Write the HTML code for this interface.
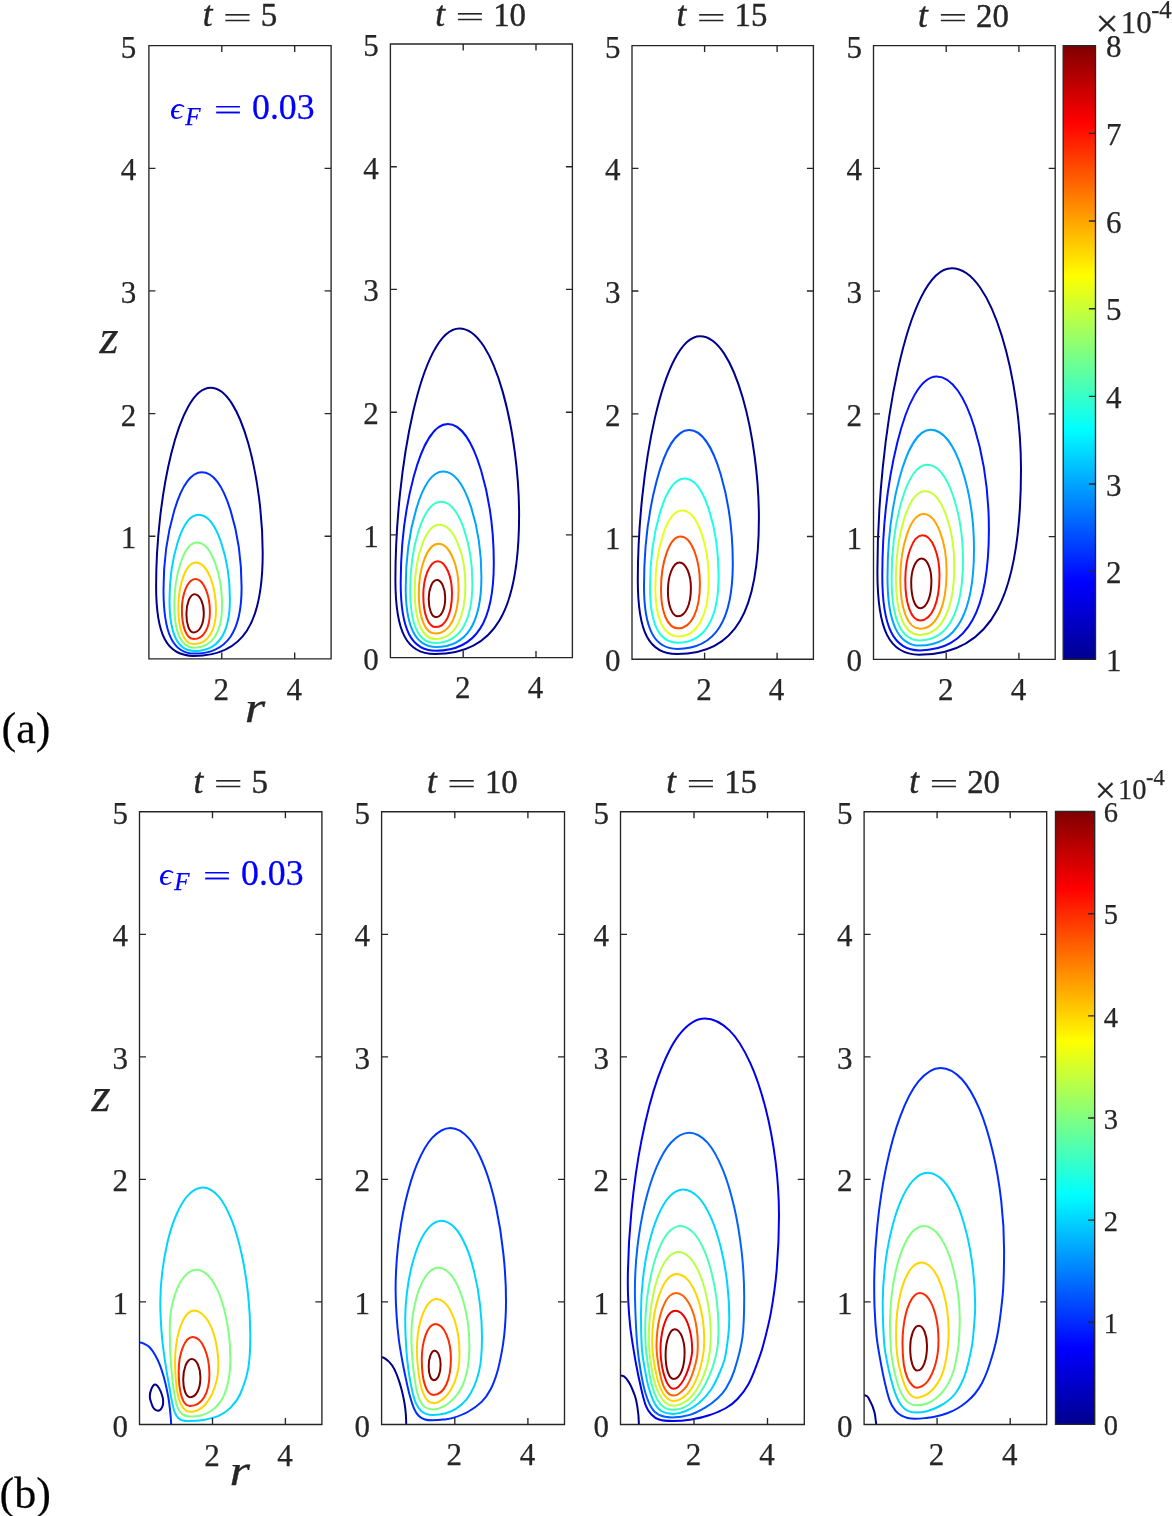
<!DOCTYPE html>
<html lang="en"><head><meta charset="utf-8"><title>Contour plots</title>
<style>html,body{margin:0;padding:0;background:#fff}svg{display:block}text{font-family:"Liberation Serif","DejaVu Serif",serif;fill:#262626;stroke:#262626;stroke-width:0.25px}.i{font-style:italic}.tk{font-size:31px}.c{fill:none;stroke-width:2.0;stroke-linejoin:round}.ax{fill:none;stroke:#262626;stroke-width:1.35}</style></head><body>
<svg width="1172" height="1516" viewBox="0 0 1172 1516">
<rect width="1172" height="1516" fill="#fff"/>
<defs><linearGradient id="jet" x1="0" y1="1" x2="0" y2="0">
<stop offset="0" stop-color="#00008F"/>
<stop offset="0.125" stop-color="#0000FF"/>
<stop offset="0.25" stop-color="#0080FF"/>
<stop offset="0.375" stop-color="#00FFFF"/>
<stop offset="0.5" stop-color="#80FF80"/>
<stop offset="0.625" stop-color="#FFFF00"/>
<stop offset="0.75" stop-color="#FF8000"/>
<stop offset="0.875" stop-color="#FF0000"/>
<stop offset="1" stop-color="#800000"/>
</linearGradient>
<clipPath id="cp0"><rect x="148.9" y="45.6" width="182.2" height="613.3"/></clipPath>
<clipPath id="cp1"><rect x="390.4" y="44" width="182" height="613.6"/></clipPath>
<clipPath id="cp2"><rect x="632" y="45.6" width="181.4" height="613.6"/></clipPath>
<clipPath id="cp3"><rect x="873.5" y="45.6" width="181.7" height="613.7"/></clipPath>
<clipPath id="cp4"><rect x="139.5" y="811.7" width="182.4" height="612.8"/></clipPath>
<clipPath id="cp5"><rect x="381.6" y="811.7" width="182.9" height="612.8"/></clipPath>
<clipPath id="cp6"><rect x="620.5" y="811.7" width="183.8" height="612.8"/></clipPath>
<clipPath id="cp7"><rect x="864.1" y="811.7" width="182.6" height="612.8"/></clipPath>
</defs>
<g clip-path="url(#cp0)">
<path class="c" stroke="#00008F" d="M210.6 387.8C241.9 387.8 262.7 482 262.7 553C262.7 623 243.4 655.9 193.8 655.9C166.7 655.9 156.1 634.9 156.1 586C156.1 498.8 177.9 387.8 210.6 387.8Z"/>
<path class="c" stroke="#002AFF" d="M201.9 472.3C225.5 472.3 241.6 536.1 241.6 587.6C241.6 631.3 227.3 653.6 194.3 653.6C172.8 653.6 163.5 633 163.5 589.7C163.5 536.3 179.1 472.3 201.9 472.3Z"/>
<path class="c" stroke="#00D4FF" d="M198.5 514.8C216.9 514.8 229.9 560.1 229.9 599.2C229.9 632.6 218.4 651.1 194.3 651.1C177.5 651.1 169.5 633.7 169.5 600.3C169.5 560.1 181.5 514.8 198.5 514.8Z"/>
<path class="c" stroke="#80FF80" d="M197 542.4C211.6 542.4 222.1 575.2 222.1 605.5C222.1 631.9 212.5 647.8 194.3 647.8C181.2 647.8 174.3 632.4 174.3 605.5C174.3 574.9 183.8 542.4 197 542.4Z"/>
<path class="c" stroke="#FFD500" d="M195.9 562.5C207.4 562.5 216 586.3 216 609.8C216 630.6 207.9 644.1 193.8 644.1C184 644.1 178.3 630 178.3 607.7C178.3 585.1 185.8 562.5 195.9 562.5Z"/>
<path class="c" stroke="#FF2A00" d="M195.4 578.9C203.6 578.9 209.9 595 209.9 611.9C209.9 627.9 203.6 639.1 193.8 639.1C186.5 639.1 181.9 627.1 181.9 609.8C181.9 593.9 187.8 578.9 195.4 578.9Z"/>
<path class="c" stroke="#800000" d="M194.5 594.2C199.7 594.2 203.8 603 203.8 612.9C203.8 624.1 199.6 632.5 193.5 632.5C189.3 632.5 186.4 624.5 186.4 614C186.4 603.5 190 594.2 194.5 594.2Z"/>
</g>
<path class="ax" d="M148.9 45.6H331.1V658.9H148.9ZM221.8 658.9v-6.5M221.8 45.6v6.5M294.7 658.9v-6.5M294.7 45.6v6.5M148.9 536.2h6.5M331.1 536.2h-6.5M148.9 413.6h6.5M331.1 413.6h-6.5M148.9 290.9h6.5M331.1 290.9h-6.5M148.9 168.3h6.5M331.1 168.3h-6.5"/>
<text class="tk" text-anchor="end" x="136.3" y="548.2">1</text>
<text class="tk" text-anchor="end" x="136.3" y="425.6">2</text>
<text class="tk" text-anchor="end" x="136.3" y="302.9">3</text>
<text class="tk" text-anchor="end" x="136.3" y="180.3">4</text>
<text class="tk" text-anchor="end" x="136.3" y="57.6">5</text>
<text class="tk" text-anchor="middle" x="221.3" y="699.9">2</text>
<text class="tk" text-anchor="middle" x="294.2" y="699.9">4</text>
<text class="i" font-size="35" style="stroke-width:0.45px" x="202.8" y="26.4">t</text>
<text font-size="43" transform="translate(223.8 18.8) scale(1.19 0.66)" x="-0.6" y="11.9">=</text>
<text font-size="34" style="stroke-width:0.45px" x="260.8" y="26.4" textLength="16.5" lengthAdjust="spacingAndGlyphs">5</text>
<text class="i" font-size="45" x="244.8" y="722.3" textLength="20.5" lengthAdjust="spacingAndGlyphs">r</text>
<text class="i" font-size="49" x="99.4" y="352.5">z</text>
<g style="fill:#0000FF;stroke:#0000FF">
<text class="i" font-size="30.5" style="fill:#0000FF;stroke:none" x="170" y="119.4" textLength="13.5" lengthAdjust="spacingAndGlyphs">ϵ</text>
<text class="i" font-size="25" style="fill:#0000FF;stroke:#0000FF" x="185.2" y="124.8">F</text>
<text font-size="43" style="fill:#0000FF;stroke:#0000FF" transform="translate(214.4 112.4) scale(1.18 0.66)" x="-0.6" y="11.9">=</text>
<text font-size="36" style="fill:#0000FF;stroke:#0000FF" x="252" y="119.4" textLength="62.6" lengthAdjust="spacingAndGlyphs">0.03</text>
</g>
<g clip-path="url(#cp1)">
<path class="c" stroke="#00008F" d="M459.4 328.4C495.2 328.4 519.1 434.8 519.1 515C519.1 609.5 495.5 654 434.9 654C406.5 654 395.4 631.7 395.4 579.7C395.4 469.1 421 328.4 459.4 328.4Z"/>
<path class="c" stroke="#0012FF" d="M447.8 424C475.1 424 493.8 501.2 493.8 562.9C493.8 621.2 476.5 650.7 436 650.7C411.2 650.7 400.7 629.2 400.7 583.1C400.7 511.1 419.8 424 447.8 424Z"/>
<path class="c" stroke="#00A4FF" d="M443.2 471.6C465.7 471.6 481.4 528.7 481.4 577C481.4 622.4 467 647 436 647C415.3 647 405.7 627 405.7 587.6C405.7 533.6 421.1 471.6 443.2 471.6Z"/>
<path class="c" stroke="#37FFC8" d="M441 501.8C459.3 501.8 472.4 544.7 472.4 583.1C472.4 621.1 460 643.1 435.4 643.1C418.7 643.1 410.2 624.1 410.2 589.8C410.2 547.7 423 501.8 441 501.8Z"/>
<path class="c" stroke="#C8FF37" d="M439.4 524.8C454.4 524.8 465.4 555.8 465.4 585.3C465.4 618.4 454.8 639 435.4 639C422 639 414.7 621 414.7 591C414.7 558.5 425.1 524.8 439.4 524.8Z"/>
<path class="c" stroke="#FFA400" d="M438.5 543.8C450 543.8 458.6 566.2 458.6 588.7C458.6 615.7 449.9 633.6 435.4 633.6C425 633.6 418.8 617.7 418.8 593.2C418.8 568.3 427.2 543.8 438.5 543.8Z"/>
<path class="c" stroke="#FF1200" d="M437.7 561.2C445.8 561.2 452 576.7 452 593.2C452 613.1 445.7 627.1 436 627.1C428.3 627.1 423.3 614.1 423.3 595.4C423.3 577.7 429.6 561.2 437.7 561.2Z"/>
<path class="c" stroke="#800000" d="M436.9 580.1C441.5 580.1 445.2 588.4 445.2 597.7C445.2 608.8 441.4 617.1 436 617.1C431.7 617.1 428.7 609.2 428.7 598.8C428.7 588.9 432.3 580.1 436.9 580.1Z"/>
</g>
<path class="ax" d="M390.4 44H572.4V657.6H390.4ZM463.2 657.6v-6.5M463.2 44v6.5M536 657.6v-6.5M536 44v6.5M390.4 534.9h6.5M572.4 534.9h-6.5M390.4 412.2h6.5M572.4 412.2h-6.5M390.4 289.4h6.5M572.4 289.4h-6.5M390.4 166.7h6.5M572.4 166.7h-6.5"/>
<text class="tk" text-anchor="end" x="378.8" y="669.6">0</text>
<text class="tk" text-anchor="end" x="378.8" y="546.9">1</text>
<text class="tk" text-anchor="end" x="378.8" y="424.2">2</text>
<text class="tk" text-anchor="end" x="378.8" y="301.4">3</text>
<text class="tk" text-anchor="end" x="378.8" y="178.7">4</text>
<text class="tk" text-anchor="end" x="378.8" y="56">5</text>
<text class="tk" text-anchor="middle" x="462.7" y="697.6">2</text>
<text class="tk" text-anchor="middle" x="535.5" y="697.6">4</text>
<text class="i" font-size="35" style="stroke-width:0.45px" x="435.2" y="26.1">t</text>
<text font-size="43" transform="translate(456.2 18.5) scale(1.19 0.66)" x="-0.6" y="11.9">=</text>
<text font-size="34" style="stroke-width:0.45px" x="493.2" y="26.1" textLength="32.8" lengthAdjust="spacingAndGlyphs">10</text>
<g clip-path="url(#cp2)">
<path class="c" stroke="#00008F" d="M700.1 336.2C735.4 336.2 758.9 439.9 758.9 518.2C758.9 610.6 736 654.1 677.1 654.1C648.8 654.1 637.8 631.9 637.8 580C637.8 472.7 662.7 336.2 700.1 336.2Z"/>
<path class="c" stroke="#004DFF" d="M689.2 430C715 430 732.8 503.4 732.8 563.5C732.8 619.7 715.8 648.9 677.3 648.9C654.2 648.9 644 628.4 644 586C644 514.6 662.4 430 689.2 430Z"/>
<path class="c" stroke="#1AFFE5" d="M684.6 478.5C704.5 478.5 718.6 530.2 718.6 576C718.6 618.5 705.1 642.8 677.8 642.8C659.2 642.8 650 623.4 650 587.6C650 535.7 664.4 478.5 684.6 478.5Z"/>
<path class="c" stroke="#E5FF1A" d="M682.2 510.6C697.5 510.6 708.8 546 708.8 580C708.8 614.6 697.8 636.4 678.2 636.4C663.5 636.4 655.3 618.3 655.3 588.5C655.3 550 666.7 510.6 682.2 510.6Z"/>
<path class="c" stroke="#FF4C00" d="M680.6 536.6C691.6 536.6 699.9 559.8 699.9 584C699.9 610.2 691.6 628.3 678.2 628.3C667.6 628.3 661 612.5 661 589.2C661 562.3 669.5 536.6 680.6 536.6Z"/>
<path class="c" stroke="#800000" d="M679.5 562.4C685.9 562.4 690.9 574.4 690.9 588C690.9 604.1 685.7 616.3 678.2 616.3C672.1 616.3 667.9 605.4 667.9 591C667.9 575.8 673 562.4 679.5 562.4Z"/>
</g>
<path class="ax" d="M632 45.6H813.4V659.2H632ZM704.6 659.2v-6.5M704.6 45.6v6.5M777.1 659.2v-6.5M777.1 45.6v6.5M632 536.5h6.5M813.4 536.5h-6.5M632 413.8h6.5M813.4 413.8h-6.5M632 291h6.5M813.4 291h-6.5M632 168.3h6.5M813.4 168.3h-6.5"/>
<text class="tk" text-anchor="end" x="620.4" y="671.2">0</text>
<text class="tk" text-anchor="end" x="620.4" y="548.5">1</text>
<text class="tk" text-anchor="end" x="620.4" y="425.8">2</text>
<text class="tk" text-anchor="end" x="620.4" y="303">3</text>
<text class="tk" text-anchor="end" x="620.4" y="180.3">4</text>
<text class="tk" text-anchor="end" x="620.4" y="57.6">5</text>
<text class="tk" text-anchor="middle" x="704.1" y="699.7">2</text>
<text class="tk" text-anchor="middle" x="776.6" y="699.7">4</text>
<text class="i" font-size="35" style="stroke-width:0.45px" x="676.5" y="26.4">t</text>
<text font-size="43" transform="translate(697.5 18.8) scale(1.19 0.66)" x="-0.6" y="11.9">=</text>
<text font-size="34" style="stroke-width:0.45px" x="734.5" y="26.4" textLength="32.8" lengthAdjust="spacingAndGlyphs">15</text>
<g clip-path="url(#cp3)">
<path class="c" stroke="#00008F" d="M951.7 268.3C993.3 268.3 1021 382.6 1021 468.9C1021 595.2 992.5 654.7 919.2 654.7C889.1 654.7 877.4 629.7 877.4 571.5C877.4 438.1 907.1 268.3 951.7 268.3Z"/>
<path class="c" stroke="#0012FF" d="M936.7 376.4C967.7 376.4 988.9 461.5 988.9 529.6C988.9 609.8 968.3 650.4 919.9 650.4C893.5 650.4 882.3 626.7 882.3 576C882.3 485.6 904.4 376.4 936.7 376.4Z"/>
<path class="c" stroke="#00A4FF" d="M930.7 429.8C956.2 429.8 974 494.3 974 549C974 611.7 956.8 645.6 919.9 645.6C897.8 645.6 887.5 622.6 887.5 577.4C887.5 508.7 905.3 429.8 930.7 429.8Z"/>
<path class="c" stroke="#37FFC8" d="M927.4 464.8C948.1 464.8 963 515 963 560C963 610.9 948.5 640.4 919.9 640.4C901.1 640.4 891.6 618.2 891.6 578C891.6 523.8 906.5 464.8 927.4 464.8Z"/>
<path class="c" stroke="#C8FF37" d="M925.1 491.3C942 491.3 954.3 529.5 954.3 565.7C954.3 608.4 942.1 634.9 919.9 634.9C904.4 634.9 895.9 613.9 895.9 578.7C895.9 535.7 908.2 491.3 925.1 491.3Z"/>
<path class="c" stroke="#FFA400" d="M923.6 514C936.7 514 946.6 542.7 946.6 571.5C946.6 605.9 936.8 628.7 920.2 628.7C907.7 628.7 900.3 609.3 900.3 579.3C900.3 546.4 910.3 514 923.6 514Z"/>
<path class="c" stroke="#FF1200" d="M922.5 535.3C932.1 535.3 939.5 554.7 939.5 575.4C939.5 601.8 931.9 620.4 920.2 620.4C911.1 620.4 905.3 603.8 905.3 580C905.3 556.9 912.8 535.3 922.5 535.3Z"/>
<path class="c" stroke="#800000" d="M921.6 558.4C927.1 558.4 931.4 568.9 931.4 580.7C931.4 596.4 926.8 608.2 920.2 608.2C914.9 608.2 911.2 597.2 911.2 582.6C911.2 569.8 915.8 558.4 921.6 558.4Z"/>
</g>
<path class="ax" d="M873.5 45.6H1055.2V659.3H873.5ZM946.2 659.3v-6.5M946.2 45.6v6.5M1018.9 659.3v-6.5M1018.9 45.6v6.5M873.5 536.6h6.5M1055.2 536.6h-6.5M873.5 413.8h6.5M1055.2 413.8h-6.5M873.5 291.1h6.5M1055.2 291.1h-6.5M873.5 168.3h6.5M1055.2 168.3h-6.5"/>
<text class="tk" text-anchor="end" x="861.9" y="671.3">0</text>
<text class="tk" text-anchor="end" x="861.9" y="548.6">1</text>
<text class="tk" text-anchor="end" x="861.9" y="425.8">2</text>
<text class="tk" text-anchor="end" x="861.9" y="303.1">3</text>
<text class="tk" text-anchor="end" x="861.9" y="180.3">4</text>
<text class="tk" text-anchor="end" x="861.9" y="57.6">5</text>
<text class="tk" text-anchor="middle" x="945.7" y="699.8">2</text>
<text class="tk" text-anchor="middle" x="1018.4" y="699.8">4</text>
<text class="i" font-size="35" style="stroke-width:0.45px" x="918.1" y="26.8">t</text>
<text font-size="43" transform="translate(939.1 19.2) scale(1.19 0.66)" x="-0.6" y="11.9">=</text>
<text font-size="34" style="stroke-width:0.45px" x="976.1" y="26.8" textLength="32.8" lengthAdjust="spacingAndGlyphs">20</text>
<g clip-path="url(#cp4)">
<path class="c" stroke="#00008F" d="M155 1384.5C157.5 1384.5 158.8 1387.8 160 1389.9C161.4 1392.2 162 1395 162.7 1397.6C163 1398.8 163.2 1400.1 163.2 1401.4C163.2 1403.2 163.2 1405.2 162.3 1406.8C161.4 1408.5 160.9 1410.7 158.1 1410.7C155.7 1410.7 154.8 1409.7 153.8 1408.4C152.2 1406.4 151.6 1403.8 150.8 1401.4C150.3 1399.8 149.8 1398.2 149.8 1396.5C149.8 1394.1 150.3 1391.7 151.2 1389.5C152 1387.6 152.9 1384.5 155 1384.5Z"/>
<path class="c" stroke="#002AFF" d="M139.5 1342.6C142.5 1342.6 143.1 1343.4 144.8 1344.2C146.7 1345.1 148.6 1346.2 150 1347.7C152.2 1350 153.9 1352.7 155.4 1355.4C157.2 1358.6 158.7 1361.9 160 1365.3C161.5 1369.1 162.7 1373 163.8 1376.9C165 1381.2 166 1385.5 166.9 1389.9C167.8 1394.2 168.6 1398.6 169.2 1403C169.8 1407.6 170.3 1412.2 170.7 1416.8C171 1419.7 170.9 1419.7 171.2 1425.5"/>
<path class="c" stroke="#00D4FF" d="M202.9 1187.5C209 1187.5 214.7 1192 218.8 1196.6C224.8 1203.5 228.5 1212.2 231.9 1220.7C236.2 1231.8 239.3 1243.4 241.8 1255C244.7 1268.1 246.7 1281.4 248.1 1294.7C249.5 1308.1 250.3 1321.6 250.3 1335C250.3 1345.8 250.2 1356.7 248.4 1367.3C246.8 1376.7 243.8 1385.8 240 1394.5C237.8 1399.4 234.4 1403.8 230.6 1407.6C227.3 1410.9 223.4 1413.7 219.1 1415.7C214.3 1417.9 209 1419 203.8 1419.9C198.7 1420.8 195.9 1421 188.4 1421C185.8 1421 184.7 1421 183 1420.5C181.4 1420.1 179.6 1419.5 178.4 1418.3C176.7 1416.6 175.5 1414.4 174.6 1412.2C173.3 1408.7 172.7 1405 171.9 1401.4C170.9 1396.3 170.1 1391.2 169.2 1386.1C168.3 1381 167.3 1375.8 166.5 1370.7C165.7 1365.6 164.9 1360.5 164.2 1355.4C163.5 1350.3 162.8 1345.1 162.3 1340C161.7 1334 161.2 1328 160.9 1322C160.6 1315.7 160.3 1309.3 160.3 1303C160.3 1292.5 161 1281.9 162.3 1271.5C163.6 1261 165.4 1250.6 167.9 1240.4C170.2 1231.2 173 1222.1 176.9 1213.5C179.9 1206.8 183.4 1199.9 188.7 1194.6C192.4 1190.9 197.6 1187.5 202.9 1187.5Z"/>
<path class="c" stroke="#80FF80" d="M196.6 1269.8C200.8 1269.8 204.9 1272.3 207.9 1275.2C212 1279.1 214.8 1284.3 217.2 1289.4C220.3 1295.9 222.4 1302.8 224.3 1309.7C226.3 1317.4 227.7 1325.3 228.7 1333.2C229.7 1341.1 230.3 1349 230.3 1357C230.3 1361.6 230.4 1366.2 229.9 1370.7C229.2 1376.4 228.4 1382.1 226.8 1387.6C225.4 1392.4 223.5 1397.2 220.7 1401.4C218.3 1405 215 1408.2 211.4 1410.7C208 1413.1 203.9 1414.7 199.9 1415.7C196.4 1416.6 194.4 1416.4 189.2 1416.4C185.7 1416.4 184.2 1415.6 182.3 1414.1C180.2 1412.5 178.6 1410.1 177.6 1407.6C176 1403.7 175.4 1399.5 174.6 1395.3C173.6 1389.7 172.9 1384.1 172.3 1378.4C171.6 1372 171 1365.6 170.6 1359.2C170.2 1353.5 170.1 1347.7 170 1342C169.9 1336.7 169.8 1331.3 169.8 1326C169.8 1320.9 170.2 1315.7 171 1310.7C171.9 1305.5 173 1300.5 174.6 1295.5C176.1 1291 177.8 1286.6 180.2 1282.5C182.2 1279.1 184.5 1275.7 187.6 1273.3C190.2 1271.3 193.4 1269.8 196.6 1269.8Z"/>
<path class="c" stroke="#FFD500" d="M193.9 1310.6C196.8 1310.6 199.6 1311.9 201.9 1313.7C204.7 1315.9 206.9 1319 208.7 1322.1C210.9 1326 212.5 1330.2 213.9 1334.5C215.4 1339.4 216.5 1344.5 217.2 1349.6C218 1355 218.4 1360.5 218.4 1366C218.4 1370.7 217.8 1375.3 216.8 1379.9C215.7 1384.7 214.3 1389.4 212.2 1393.8C210.4 1397.6 208.1 1401.3 205.3 1404.5C203.2 1406.9 200.5 1408.9 197.6 1410.3C195.2 1411.4 193.7 1411.8 189.9 1411.8C187.1 1411.8 186 1410.8 184.6 1409.5C182.9 1408 181.6 1405.8 180.7 1403.7C179.3 1400.5 178.3 1397.2 177.6 1393.8C176.6 1388.7 176.1 1383.6 175.7 1378.4C175.3 1372.9 175 1367.5 175 1362C175 1356.9 175.3 1351.8 175.9 1346.8C176.5 1342.1 177.3 1337.4 178.5 1332.8C179.5 1328.9 180.8 1325 182.5 1321.3C183.9 1318.5 185.4 1315.6 187.7 1313.5C189.4 1311.9 191.6 1310.6 193.9 1310.6Z"/>
<path class="c" stroke="#FF2A00" d="M192.7 1337.1C202.2 1337.1 209.4 1355.5 209.4 1374.3C209.4 1393.2 202 1405.9 189.9 1405.9C183.2 1405.9 178.7 1394.2 178.7 1371.5C178.7 1354 184.7 1337.1 192.7 1337.1Z"/>
<path class="c" stroke="#800000" d="M191.8 1358.9C196.6 1358.9 200.4 1367.6 200.4 1377.4C200.4 1388.7 196.3 1397.2 190.3 1397.2C186.1 1397.2 183.2 1389.6 183.2 1379.6C183.2 1368.6 187 1358.9 191.8 1358.9Z"/>
</g>
<path class="ax" d="M139.5 811.7H321.9V1424.5H139.5ZM212.5 1424.5v-6.5M212.5 811.7v6.5M285.4 1424.5v-6.5M285.4 811.7v6.5M139.5 1301.9h6.5M321.9 1301.9h-6.5M139.5 1179.4h6.5M321.9 1179.4h-6.5M139.5 1056.8h6.5M321.9 1056.8h-6.5M139.5 934.3h6.5M321.9 934.3h-6.5"/>
<text class="tk" text-anchor="end" x="127.9" y="1436.5">0</text>
<text class="tk" text-anchor="end" x="127.9" y="1313.9">1</text>
<text class="tk" text-anchor="end" x="127.9" y="1191.4">2</text>
<text class="tk" text-anchor="end" x="127.9" y="1068.8">3</text>
<text class="tk" text-anchor="end" x="127.9" y="946.3">4</text>
<text class="tk" text-anchor="end" x="127.9" y="823.7">5</text>
<text class="tk" text-anchor="middle" x="212" y="1465.5">2</text>
<text class="tk" text-anchor="middle" x="284.9" y="1465.5">4</text>
<text class="i" font-size="35" style="stroke-width:0.45px" x="193.5" y="792.8">t</text>
<text font-size="43" transform="translate(214.5 785.2) scale(1.19 0.66)" x="-0.6" y="11.9">=</text>
<text font-size="34" style="stroke-width:0.45px" x="251.5" y="792.8" textLength="16.5" lengthAdjust="spacingAndGlyphs">5</text>
<text class="i" font-size="45" x="229.4" y="1485" textLength="20.5" lengthAdjust="spacingAndGlyphs">r</text>
<text class="i" font-size="49" x="91.6" y="1110.8">z</text>
<g style="fill:#0000FF;stroke:#0000FF">
<text class="i" font-size="30.5" style="fill:#0000FF;stroke:none" x="159" y="885" textLength="13.5" lengthAdjust="spacingAndGlyphs">ϵ</text>
<text class="i" font-size="25" style="fill:#0000FF;stroke:#0000FF" x="174.2" y="890.4">F</text>
<text font-size="43" style="fill:#0000FF;stroke:#0000FF" transform="translate(203.4 878) scale(1.18 0.66)" x="-0.6" y="11.9">=</text>
<text font-size="36" style="fill:#0000FF;stroke:#0000FF" x="241" y="885" textLength="62.6" lengthAdjust="spacingAndGlyphs">0.03</text>
</g>
<g clip-path="url(#cp5)">
<path class="c" stroke="#00008F" d="M381.6 1357.3C383.8 1357.3 384.3 1358.2 385.5 1358.9C386.8 1359.7 388 1360.8 389.1 1361.9C390.3 1363.2 391.5 1364.5 392.5 1366C393.7 1367.9 394.8 1370 395.7 1372.1C396.8 1374.5 397.7 1377.1 398.6 1379.6C399.6 1382.5 400.5 1385.5 401.3 1388.5C402 1391.1 402.6 1393.8 403.2 1396.5C403.8 1399.2 404.3 1401.8 404.7 1404.5C405.2 1407.7 405.6 1410.8 405.8 1414C406.1 1417.8 406 1417.8 406.3 1425.5"/>
<path class="c" stroke="#002AFF" d="M450.5 1127.9C457.6 1127.9 464.4 1133.2 469.1 1138.6C476.1 1146.7 480.5 1156.9 484.4 1166.9C489.5 1179.9 493.1 1193.5 496.1 1207.2C499.4 1222.5 501.8 1238.1 503.4 1253.8C505.1 1269.4 506 1285.2 506 1301C506 1306.3 505.9 1311.6 505.6 1316.9C505.3 1323.1 504.9 1329.3 504.2 1335.4C503.5 1341.6 502.6 1347.8 501.4 1353.9C500.2 1360.1 499 1366.3 497.2 1372.3C495.5 1378 493.6 1383.7 490.8 1389C488.3 1393.7 485.3 1398.2 481.6 1401.9C477.5 1405.9 472.7 1409.2 467.7 1412C463.4 1414.4 458.6 1416.1 453.9 1417.6C451 1418.5 448 1419 445 1419.4C440.7 1419.9 438.2 1420.3 431.9 1420.3C428.5 1420.3 427.2 1420.2 425 1419.5C422.8 1418.8 420.6 1417.6 418.9 1416C416.9 1414.1 415.4 1411.6 414.3 1409.1C412.3 1404.7 411 1400 409.7 1395.3C408.2 1389.7 407 1384.1 405.8 1378.4C404.4 1372 403.2 1365.6 402 1359.2C400.9 1352.8 399.7 1346.4 398.9 1340C397.9 1332 397.1 1324 396.6 1316C396 1307.1 395.6 1298.2 395.6 1289.3C395.6 1274.6 396.5 1259.9 398.1 1245.2C399.8 1230.7 402.1 1216.1 405.4 1201.8C408.4 1189.1 411.9 1176.3 416.9 1164.3C420.9 1154.9 425.3 1145.3 432.1 1137.9C436.9 1132.8 443.5 1127.9 450.5 1127.9Z"/>
<path class="c" stroke="#00D4FF" d="M441.5 1220.8C446.6 1220.8 451.5 1224.3 455 1228C460.1 1233.3 463.4 1240.3 466.3 1247C470 1255.7 472.6 1264.9 474.7 1274.1C477.2 1284.4 478.9 1294.9 480.1 1305.4C481.3 1316 482 1326.6 482 1337.2C482 1344.3 481.7 1351.4 481.1 1358.5C480.7 1363.1 479.9 1367.8 478.8 1372.3C477.6 1377 476.2 1381.7 474.2 1386.2C472.2 1390.7 469.9 1395.2 466.8 1399.1C463.9 1402.7 460.4 1405.7 456.6 1408.3C453.3 1410.5 449.6 1412.2 445.8 1413.3C441.6 1414.5 439.1 1414.9 432.7 1414.9C429.7 1414.9 428.5 1414.8 426.6 1414.1C424.6 1413.4 422.6 1412.5 421.2 1411C419 1408.7 417.1 1405.9 415.8 1403C414 1398.8 413 1394.3 412 1389.9C410.6 1383.6 409.4 1377.1 408.5 1370.7C407.5 1363.1 406.7 1355.4 406.2 1347.7C405.6 1338.5 405.2 1329.2 405.2 1320C405.2 1311 405.8 1301.9 406.9 1292.9C408 1283.9 409.5 1275 411.7 1266.2C413.7 1258.4 416 1250.5 419.3 1243.1C421.9 1237.3 424.9 1231.4 429.4 1226.9C432.6 1223.7 437 1220.8 441.5 1220.8Z"/>
<path class="c" stroke="#80FF80" d="M438.3 1267.8C442.1 1267.8 445.9 1270 448.7 1272.5C452.5 1276 455 1280.6 457.3 1285.1C460.1 1290.8 462.1 1296.9 463.8 1303C465.7 1309.7 467 1316.7 468 1323.6C468.9 1330.6 469.4 1337.6 469.4 1344.6C469.4 1349.2 469.2 1353.9 468.8 1358.5C468.4 1363.1 467.9 1367.8 466.8 1372.3C465.7 1377 464.3 1381.8 462.2 1386.2C460.3 1390.2 457.8 1394 454.8 1397.3C451.8 1400.6 448.5 1403.6 444.6 1405.8C441.1 1407.8 438.9 1409.5 433.1 1409.5C429 1409.5 427.3 1408.8 425 1407.2C422.5 1405.4 420.8 1402.7 419.6 1399.9C417.7 1395.5 416.7 1390.8 415.8 1386.1C414.6 1379.8 413.8 1373.3 413.1 1366.9C412.5 1361.3 412.1 1355.6 411.8 1350C411.5 1345 411.4 1340 411.4 1335C411.4 1328.9 411.8 1322.7 412.6 1316.7C413.5 1310.6 414.6 1304.5 416.2 1298.6C417.7 1293.2 419.4 1287.9 421.9 1282.9C423.8 1279 426 1274.9 429.3 1272C431.7 1269.7 435 1267.8 438.3 1267.8Z"/>
<path class="c" stroke="#FFD500" d="M436.4 1299C439.1 1299 441.8 1300.3 443.9 1302C446.6 1304.2 448.6 1307.2 450.3 1310.2C452.4 1314 454 1318.2 455.2 1322.3C456.7 1327.1 457.7 1332.1 458.4 1337C459.1 1342.3 459.5 1347.7 459.5 1353C459.5 1357.9 459.3 1362.9 458.5 1367.7C457.7 1372.4 456.6 1377.1 454.8 1381.6C453.1 1385.8 451.1 1390 448.3 1393.6C445.9 1396.7 442.9 1399.3 439.6 1401.4C437.8 1402.5 436.6 1403.1 433.5 1403.1C430.7 1403.1 429.5 1402.4 428.1 1401.1C426 1399.1 424.6 1396.4 423.5 1393.8C421.9 1390.1 420.8 1386.2 420 1382.2C418.9 1376.5 418.3 1370.8 417.7 1365C417.2 1360 416.9 1355 416.9 1350C416.9 1345 417.2 1339.9 417.8 1334.9C418.4 1330.2 419.3 1325.6 420.5 1321C421.6 1317.1 422.8 1313.2 424.7 1309.6C426 1306.8 427.7 1304 430 1301.9C431.8 1300.3 434.1 1299 436.4 1299Z"/>
<path class="c" stroke="#FF2A00" d="M435.4 1324C444.2 1324 450.9 1340.9 450.9 1358.5C450.9 1380 444.2 1394.9 433.5 1394.9C426.3 1394.9 421.8 1380.6 421.8 1359.5C421.8 1341.3 427.7 1324 435.4 1324Z"/>
<path class="c" stroke="#800000" d="M434.6 1350.8C438 1350.8 440.6 1357.3 440.6 1364.7C440.6 1373.5 437.8 1380.2 433.8 1380.2C430.8 1380.2 428.7 1374.2 428.7 1366.2C428.7 1358 431.3 1350.8 434.6 1350.8Z"/>
</g>
<path class="ax" d="M381.6 811.7H564.5V1424.5H381.6ZM454.8 1424.5v-6.5M454.8 811.7v6.5M527.9 1424.5v-6.5M527.9 811.7v6.5M381.6 1301.9h6.5M564.5 1301.9h-6.5M381.6 1179.4h6.5M564.5 1179.4h-6.5M381.6 1056.8h6.5M564.5 1056.8h-6.5M381.6 934.3h6.5M564.5 934.3h-6.5"/>
<text class="tk" text-anchor="end" x="370" y="1436.5">0</text>
<text class="tk" text-anchor="end" x="370" y="1313.9">1</text>
<text class="tk" text-anchor="end" x="370" y="1191.4">2</text>
<text class="tk" text-anchor="end" x="370" y="1068.8">3</text>
<text class="tk" text-anchor="end" x="370" y="946.3">4</text>
<text class="tk" text-anchor="end" x="370" y="823.7">5</text>
<text class="tk" text-anchor="middle" x="454.3" y="1465">2</text>
<text class="tk" text-anchor="middle" x="527.4" y="1465">4</text>
<text class="i" font-size="35" style="stroke-width:0.45px" x="426.9" y="792.8">t</text>
<text font-size="43" transform="translate(447.9 785.2) scale(1.19 0.66)" x="-0.6" y="11.9">=</text>
<text font-size="34" style="stroke-width:0.45px" x="484.9" y="792.8" textLength="32.8" lengthAdjust="spacingAndGlyphs">10</text>
<g clip-path="url(#cp6)">
<path class="c" stroke="#00008F" d="M620.5 1375.4C625.3 1375.4 626 1378.3 627.8 1380.7C630.5 1384.2 632 1388.5 633.7 1392.6C634.8 1395.1 635.6 1397.8 636.2 1400.5C637.2 1405 637.8 1409.5 638.3 1414C638.7 1417.8 638.5 1417.8 639 1425.5"/>
<path class="c" stroke="#0000F1" d="M704.9 1018.4C714.1 1018.4 723.1 1024.1 729.7 1030.6C738.8 1039.5 744.9 1051.3 750.2 1062.8C757 1077.5 761.7 1093.1 765.7 1108.7C770.2 1126.1 773.3 1143.9 775.6 1161.8C777.8 1179.6 779 1197.6 779 1215.6C779 1233.6 778.2 1251.6 776.7 1269.5C775.5 1283.8 773.5 1298 771 1312.1C769 1323.5 766 1334.8 763 1346C761.4 1352.1 759.2 1358 757 1363.9C754.4 1370.8 752 1377.8 748.4 1384.2C745.4 1389.6 741.7 1394.5 737.5 1399C734.2 1402.5 730.2 1405.6 726 1408C720.6 1411.1 714.8 1413.3 709 1415.3C704 1417 698.8 1418.3 693.6 1419.1C686.5 1420.2 682.5 1421 672.1 1421C665.7 1421 663.2 1420.8 659 1419.5C656.1 1418.6 653.5 1416.7 651.4 1414.5C649.1 1412.1 647.2 1409.2 646 1406.1C643.5 1399.6 642.2 1392.8 640.6 1386.1C638.9 1378.7 637.4 1371.3 636 1363.8C634.7 1356.9 633.6 1349.9 632.5 1343C631.6 1337.2 630.7 1331.5 630.1 1325.7C629.3 1317.8 628.7 1309.8 628.3 1301.8C628 1295.8 627.8 1289.7 627.8 1283.7C627.8 1259.5 629.1 1235.3 631.4 1211.3C633.7 1187.4 636.9 1163.5 641.6 1139.9C645.8 1119 650.6 1098.2 657.8 1078.2C663.2 1063 669.1 1047.4 679.1 1034.8C685.4 1026.8 694.7 1018.4 704.9 1018.4Z"/>
<path class="c" stroke="#0063FF" d="M689.3 1132.8C696.3 1132.8 703 1137.8 707.7 1142.9C714.6 1150.6 718.9 1160.3 722.9 1169.8C727.9 1182.1 731.4 1195 734.4 1208C737.7 1222.5 740 1237.3 741.7 1252.2C743.3 1267.1 744.2 1282 744.2 1297C744.2 1310.5 744.2 1324.2 742.4 1337.6C740.8 1349 737.6 1360.2 734.1 1371.1C732.1 1377.2 729.3 1383 726 1388.4C723.7 1392.2 720.6 1395.4 717.4 1398.4C713.6 1401.9 709.5 1405 705.1 1407.6C700.2 1410.5 695.2 1413.3 689.8 1414.9C684.1 1416.6 680.7 1417.4 672.1 1417.4C665.7 1417.4 663 1416.8 659 1414.9C655.8 1413.4 653.2 1410.6 651.4 1407.6C648.5 1402.9 646.8 1397.5 645.2 1392.2C643.1 1385.2 641.8 1377.9 640.6 1370.7C639.3 1363.1 638.2 1355.4 637.5 1347.7C636.6 1338.4 636.1 1329 635.7 1319.7C635.3 1309.8 634.9 1299.9 634.9 1290C634.9 1275.7 635.8 1261.3 637.4 1247.1C639.1 1232.9 641.4 1218.7 644.6 1204.8C647.6 1192.4 651.1 1180 656.1 1168.2C659.9 1159.1 664.3 1149.7 671.1 1142.5C675.8 1137.5 682.4 1132.8 689.3 1132.8Z"/>
<path class="c" stroke="#00D4FF" d="M683.1 1189.5C688.9 1189.5 694.5 1193.3 698.5 1197.4C704.3 1203.3 708 1210.9 711.3 1218.4C715.6 1228 718.5 1238.2 721 1248.3C723.8 1259.7 725.8 1271.3 727.2 1282.9C728.5 1294.6 729.3 1306.3 729.3 1318C729.3 1330.5 727.6 1343 725.5 1355.4C724.6 1360.7 722.6 1365.8 720.5 1370.7C717.8 1377 715.1 1383.5 711.3 1389.2C707.9 1394.3 703.7 1399 699 1403C695.1 1406.3 690.6 1409 685.9 1411C681.8 1412.7 679.3 1413.9 672.9 1413.9C667.1 1413.9 664.7 1413 661.3 1411C658.3 1409.2 656.1 1406.1 654.4 1403C651.8 1398.2 650.2 1392.9 648.7 1387.6C646.8 1380.8 645.6 1373.8 644.4 1366.9C643.3 1360.5 642.2 1354.1 641.8 1347.7C641.1 1335.8 641 1323.9 641 1312C641 1300.8 641.7 1289.7 643 1278.6C644.2 1267.5 646 1256.4 648.5 1245.6C650.8 1235.9 653.5 1226.3 657.4 1217.1C660.4 1210 663.8 1202.7 669 1197.1C672.7 1193.2 677.8 1189.5 683.1 1189.5Z"/>
<path class="c" stroke="#47FFB8" d="M680.2 1226.1C685 1226.1 689.6 1229.1 693 1232.4C697.7 1237 700.9 1243.1 703.6 1249.1C707.1 1256.6 709.6 1264.7 711.6 1272.8C713.9 1281.8 715.6 1291 716.7 1300.2C717.9 1309.4 718.5 1318.7 718.5 1328C718.5 1334.6 718.4 1341.2 717.4 1347.7C716.4 1354.2 714.9 1360.7 712.8 1366.9C710.6 1373.5 707.8 1380 704.4 1386.1C701.6 1391.1 698.3 1395.8 694.4 1399.9C691.3 1403.1 687.6 1405.8 683.6 1407.6C680.3 1409.1 678.2 1409.7 672.9 1409.7C668.7 1409.7 666.9 1409.2 664.4 1407.6C661.5 1405.7 659.2 1402.9 657.5 1399.9C655 1395.6 653.4 1390.9 652.1 1386.1C650.3 1379.8 649.4 1373.3 648.3 1366.9C647.3 1360.5 646.3 1354.1 645.8 1347.7C645.3 1341.2 645.2 1334.6 645.2 1328C645.2 1318.7 645.8 1309.4 646.8 1300.2C647.9 1291 649.4 1281.8 651.5 1272.8C653.4 1264.7 655.6 1256.7 658.8 1249.1C661.3 1243.1 664.1 1237.1 668.5 1232.4C671.5 1229.2 675.8 1226.1 680.2 1226.1Z"/>
<path class="c" stroke="#B8FF47" d="M678.3 1251.9C682.3 1251.9 686.3 1254.3 689.2 1257C693.1 1260.8 695.8 1265.7 698.2 1270.6C701.1 1276.8 703.2 1283.4 705 1290C706.9 1297.3 708.3 1304.8 709.3 1312.3C710.3 1319.8 710.8 1327.4 710.8 1335C710.8 1340.5 710.4 1346 709.7 1351.5C709 1356.7 708.2 1361.9 706.7 1366.9C704.9 1372.9 702.6 1378.9 699.7 1384.5C697.4 1388.9 694.7 1393.1 691.3 1396.8C688.7 1399.6 685.5 1402 682.1 1403.7C679.5 1405 677.8 1405.7 673.6 1405.7C670.1 1405.7 668.7 1405.1 666.7 1403.7C664.2 1402 662.2 1399.4 660.6 1396.8C658.3 1393 656.5 1388.8 655.2 1384.5C653.4 1378.8 652.4 1372.8 651.4 1366.9C650.4 1361.3 649.8 1355.7 649.3 1350C648.9 1345.3 648.8 1340.7 648.8 1336C648.8 1328.3 649.3 1320.7 650.2 1313C651.1 1305.4 652.3 1297.9 654.1 1290.4C655.7 1283.8 657.6 1277.1 660.3 1270.8C662.4 1265.9 664.8 1261 668.4 1257.1C671 1254.4 674.6 1251.9 678.3 1251.9Z"/>
<path class="c" stroke="#FFD500" d="M676.7 1274C679.9 1274 683.2 1275.7 685.7 1277.8C688.9 1280.5 691.3 1284.2 693.3 1287.9C695.8 1292.5 697.6 1297.6 699.1 1302.6C700.8 1308.4 702 1314.3 702.9 1320.3C703.7 1326.5 704.2 1332.7 704.2 1339C704.2 1343.2 704.1 1347.4 703.6 1351.5C702.9 1356.7 701.9 1361.9 700.5 1366.9C699.1 1372.1 697.4 1377.3 695.1 1382.2C693.3 1386.1 691 1389.8 688.2 1393C686.1 1395.5 683.4 1397.5 680.5 1399.1C678.4 1400.3 677.1 1401.1 673.6 1401.1C670.9 1401.1 669.8 1400.2 668.3 1399.1C666.1 1397.5 664.3 1395.3 662.9 1393C660.9 1389.6 659.5 1385.9 658.3 1382.2C656.7 1377.2 655.8 1372 654.8 1366.9C653.9 1362 653.2 1357 652.7 1352C652.3 1348 652.2 1344 652.2 1340C652.2 1333.6 652.6 1327.3 653.4 1321C654.1 1314.9 655.2 1309 656.7 1303.1C658.1 1298 659.7 1292.9 661.9 1288.1C663.7 1284.4 665.7 1280.7 668.7 1277.8C670.8 1275.8 673.7 1274 676.7 1274Z"/>
<path class="c" stroke="#FF6300" d="M676 1292.9C678.6 1292.9 681.1 1294.1 683.1 1295.7C685.7 1297.8 687.5 1300.6 689.1 1303.4C691.1 1307 692.6 1310.9 693.8 1314.8C695.1 1319.3 696.1 1323.9 696.7 1328.5C697.4 1333.5 697.8 1338.5 697.8 1343.5C697.8 1348 697.8 1352.6 697 1357C696.1 1362.4 694.6 1367.8 692.8 1373C691.2 1377.5 689.3 1382.1 686.7 1386.1C684.9 1388.8 682.4 1391.1 679.8 1393C678 1394.3 676.8 1395.5 673.5 1395.5C669.7 1395.5 668.4 1393.5 666.7 1391.5C664.4 1388.9 663.2 1385.5 662.1 1382.2C660.5 1377.2 659.5 1372.1 658.7 1366.9C657.6 1360 656.5 1353 656.5 1346C656.5 1340.8 656.8 1335.5 657.4 1330.3C658 1325.4 658.9 1320.6 660.1 1315.8C661.2 1311.8 662.4 1307.7 664.3 1303.9C665.6 1301 667.3 1298.1 669.6 1295.9C671.3 1294.3 673.7 1292.9 676 1292.9Z"/>
<path class="c" stroke="#F10000" d="M675.3 1310.7C677.3 1310.7 679.2 1311.6 680.8 1312.8C682.7 1314.4 684.2 1316.5 685.4 1318.6C687 1321.4 688.1 1324.3 689 1327.3C690.1 1330.8 690.9 1334.4 691.4 1338.1C691.9 1342 692.2 1346 692.2 1350C692.2 1355.7 690.6 1361.4 689 1366.9C687.7 1371.4 685.8 1375.8 683.6 1379.9C682.2 1382.5 680.4 1385 678.2 1386.9C676.9 1388 676 1388.8 673.5 1388.8C671.5 1388.8 670.7 1387.9 669.8 1386.9C668.2 1385.1 666.9 1383 666 1380.7C664.3 1376.2 662.9 1371.6 662.1 1366.9C661.1 1361.3 660.5 1355.7 660.5 1350C660.5 1346 660.7 1342 661.2 1338.1C661.7 1334.5 662.3 1330.9 663.3 1327.3C664.1 1324.4 665.1 1321.4 666.4 1318.6C667.5 1316.5 668.8 1314.4 670.5 1312.8C671.8 1311.7 673.6 1310.7 675.3 1310.7Z"/>
<path class="c" stroke="#800000" d="M674.8 1329.2C680.3 1329.2 684.6 1340.2 684.6 1352.5C684.6 1367.6 680.1 1379 673.6 1379C668.9 1379 665.6 1368.7 665.6 1355C665.6 1341.3 669.6 1329.2 674.8 1329.2Z"/>
</g>
<path class="ax" d="M620.5 811.7H804.3V1424.5H620.5ZM694 1424.5v-6.5M694 811.7v6.5M767.5 1424.5v-6.5M767.5 811.7v6.5M620.5 1301.9h6.5M804.3 1301.9h-6.5M620.5 1179.4h6.5M804.3 1179.4h-6.5M620.5 1056.8h6.5M804.3 1056.8h-6.5M620.5 934.3h6.5M804.3 934.3h-6.5"/>
<text class="tk" text-anchor="end" x="608.9" y="1436.5">0</text>
<text class="tk" text-anchor="end" x="608.9" y="1313.9">1</text>
<text class="tk" text-anchor="end" x="608.9" y="1191.4">2</text>
<text class="tk" text-anchor="end" x="608.9" y="1068.8">3</text>
<text class="tk" text-anchor="end" x="608.9" y="946.3">4</text>
<text class="tk" text-anchor="end" x="608.9" y="823.7">5</text>
<text class="tk" text-anchor="middle" x="693.5" y="1465">2</text>
<text class="tk" text-anchor="middle" x="767" y="1465">4</text>
<text class="i" font-size="35" style="stroke-width:0.45px" x="666.2" y="792.8">t</text>
<text font-size="43" transform="translate(687.2 785.2) scale(1.19 0.66)" x="-0.6" y="11.9">=</text>
<text font-size="34" style="stroke-width:0.45px" x="724.2" y="792.8" textLength="32.8" lengthAdjust="spacingAndGlyphs">15</text>
<g clip-path="url(#cp7)">
<path class="c" stroke="#00008F" d="M864.1 1395.3C868.4 1395.3 868.6 1398.6 870 1400.9C872.1 1404.3 873.4 1408.1 874.4 1412C875.5 1416.4 875.1 1416.5 876.4 1425.5"/>
<path class="c" stroke="#002AFF" d="M940.7 1068C948.7 1068 956.4 1073.4 961.9 1079.3C969.8 1087.7 974.9 1098.5 979.5 1109.1C985.3 1122.8 989.3 1137.1 992.7 1151.6C996.6 1167.7 999.3 1184.2 1001.2 1200.7C1003.1 1217.2 1004.1 1233.9 1004.1 1250.5C1004.1 1263 1003.9 1275.6 1003.2 1288.1C1002.8 1296.1 1001.7 1304 1000.8 1312C1000.1 1318 999.3 1324 998.3 1330C997.5 1334.6 996.6 1339.2 995.5 1343.7C994.4 1348.3 993.2 1352.8 991.8 1357.3C990.4 1361.9 989 1366.5 987.3 1371C985.7 1375.2 984 1379.3 981.9 1383.2C979.9 1386.8 977.7 1390.3 975.1 1393.5C972.7 1396.5 969.9 1399.2 966.9 1401.7C963.9 1404.2 960.7 1406.5 957.3 1408.5C954.1 1410.4 950.6 1412 947.1 1413.3C943.8 1414.6 940.3 1415.5 936.8 1416.3C933.3 1417.1 929.7 1417.6 926.1 1418C922.3 1418.4 920.2 1418.7 914.6 1418.7C911.2 1418.7 909.9 1418.5 907.6 1418C905.5 1417.5 903.4 1416.8 901.5 1415.7C899.2 1414.4 897 1412.7 895.4 1410.7C893.2 1407.9 891.2 1404.8 890 1401.4C887.6 1395 886.2 1388.2 884.6 1381.5C882.8 1373.9 881.4 1366.1 880 1358.4C878.7 1351.2 877.4 1343.9 876.6 1336.6C875.6 1327.4 875 1318.1 874.6 1308.8C874.2 1300.9 874.2 1292.9 874.2 1285C874.2 1265.2 875.3 1245.4 877.3 1225.8C879.3 1206.2 882.1 1186.6 886.1 1167.4C889.7 1150.3 893.9 1133.2 900.1 1116.9C904.7 1104.4 909.9 1091.6 918.5 1081.4C924 1074.7 932 1068 940.7 1068Z"/>
<path class="c" stroke="#00D4FF" d="M927.7 1172.8C933.7 1172.8 939.4 1176.7 943.6 1181C949.5 1187.1 953.3 1195 956.7 1202.8C961.1 1212.7 964.1 1223.3 966.7 1233.8C969.6 1245.6 971.6 1257.6 973 1269.6C974.4 1281.7 975.2 1293.9 975.2 1306C975.2 1314 974.3 1322 973.7 1330C973.3 1334.6 973 1339.2 972.3 1343.7C971.6 1348.3 970.6 1352.8 969.6 1357.3C968.6 1361.9 967.6 1366.5 966.2 1371C964.9 1375.2 963.3 1379.3 961.4 1383.2C959.7 1386.8 957.7 1390.3 955.3 1393.5C953.1 1396.3 950.5 1398.8 947.7 1401C945 1403.1 942 1404.9 938.9 1406.5C935.6 1408.2 932.1 1409.8 928.5 1410.8C924.5 1411.9 922.2 1412.6 916.1 1412.6C911.5 1412.6 909.7 1411.8 906.9 1410.3C904.4 1409 902.3 1406.8 900.7 1404.5C898.4 1401.2 896.8 1397.5 895.4 1393.8C893.5 1388.8 892.2 1383.6 890.8 1378.4C889.5 1373.3 888.3 1368.2 887.3 1363C886.3 1357.9 885.2 1352.8 884.6 1347.7C883.8 1340.5 883.5 1333.2 883.2 1326C882.9 1318.7 882.7 1311.3 882.7 1304C882.7 1292 883.4 1280.1 884.8 1268.2C886.1 1256.3 888 1244.5 890.8 1232.9C893.2 1222.5 896.1 1212.2 900.2 1202.4C903.4 1194.7 907 1187 912.7 1180.9C916.5 1176.7 922 1172.8 927.7 1172.8Z"/>
<path class="c" stroke="#80FF80" d="M923.7 1225.9C928.2 1225.9 932.6 1228.6 935.8 1231.7C940.2 1235.9 943.2 1241.6 945.8 1247.1C949.1 1254.1 951.4 1261.5 953.3 1269C955.5 1277.3 957 1285.8 958.1 1294.3C959.2 1302.8 959.8 1311.4 959.8 1320C959.8 1324 959.6 1328 959.4 1332C959.2 1335.9 959.1 1339.8 958.7 1343.7C958.2 1348.3 957.5 1352.8 956.6 1357.3C955.7 1361.9 954.9 1366.5 953.5 1371C952.4 1374.7 950.9 1378.4 949.1 1381.9C947.4 1385.2 945.3 1388.5 943 1391.4C941 1393.9 938.7 1396.3 936.1 1398.3C933.5 1400.3 930.6 1402.2 927.5 1403.3C924.1 1404.5 922.1 1405.3 916.9 1405.3C914.3 1405.3 913.2 1405.1 911.5 1404.4C909.5 1403.5 907.5 1402.3 906.1 1400.7C903.9 1398.2 902.1 1395.3 900.7 1392.2C898.7 1387.8 897.4 1383.1 896.1 1378.4C894.7 1373.3 893.6 1368.2 892.7 1363C891.8 1357.9 891.1 1352.8 890.8 1347.7C890.2 1339.1 890 1330.6 890 1322C890 1313.2 890.6 1304.5 891.6 1295.8C892.6 1287.1 894 1278.4 896 1269.9C897.9 1262.3 900 1254.7 903.1 1247.5C905.5 1242 908.2 1236.2 912.4 1231.8C915.4 1228.8 919.5 1225.9 923.7 1225.9Z"/>
<path class="c" stroke="#FFD500" d="M921.2 1262.5C924.5 1262.5 927.7 1264.3 930.2 1266.4C933.5 1269.3 935.8 1273.3 937.8 1277.2C940.3 1282.2 942.1 1287.5 943.6 1293C945.3 1299.2 946.6 1305.7 947.4 1312.1C948.2 1319 948.7 1326 948.7 1333C948.7 1336.6 948.4 1340.1 948.1 1343.7C947.7 1348.2 947.2 1352.8 946.4 1357.3C945.7 1361.4 944.9 1365.6 943.7 1369.6C942.6 1373.1 941.3 1376.6 939.6 1379.8C938.1 1382.7 936.2 1385.5 934.1 1388C932.3 1390.1 930.2 1392 928 1393.6C926.5 1394.7 924.8 1395.5 923 1396.1C920.9 1396.9 919.7 1397.8 916.5 1397.8C913.9 1397.8 912.9 1396.8 911.5 1395.7C909.6 1394.1 908.1 1392.1 906.9 1389.9C905 1386.3 903.5 1382.3 902.3 1378.4C900.7 1373.4 899.4 1368.2 898.4 1363C897.4 1358 896.9 1352.8 896.5 1347.7C896.1 1342.5 896.1 1337.2 896.1 1332C896.1 1325.1 896.5 1318.3 897.3 1311.4C898.1 1305.1 899.2 1298.7 900.7 1292.5C902.1 1287.2 903.7 1281.9 906.1 1277C907.9 1273.1 910 1269.3 913 1266.4C915.2 1264.3 918.2 1262.5 921.2 1262.5Z"/>
<path class="c" stroke="#FF2A00" d="M919.9 1293.1C922.1 1293.1 924.3 1294.2 925.9 1295.6C928.1 1297.5 929.7 1300.1 931 1302.6C932.8 1305.9 934 1309.5 935 1313C936.2 1317.2 937 1321.6 937.6 1325.9C938.2 1330.6 938.5 1335.4 938.5 1340.2C938.5 1344.3 938.3 1348.4 937.8 1352.5C937.3 1356.4 936.5 1360.3 935.5 1364.1C934.6 1367.4 933.4 1370.6 932 1373.7C930.7 1376.4 929.3 1379.1 927.5 1381.5C926.3 1383.1 924.7 1384.6 923 1385.6C921.1 1386.7 920 1387.8 916.9 1387.8C914.4 1387.8 913.5 1386.5 912.3 1385.3C910.3 1383.3 908.7 1381 907.6 1378.4C905.8 1374 904.5 1369.3 903.8 1364.5C902.8 1357.2 902.5 1349.8 902.5 1342.5C902.5 1337.5 902.8 1332.5 903.4 1327.5C903.9 1323 904.7 1318.4 905.8 1314C906.7 1310.3 907.9 1306.6 909.5 1303.1C910.7 1300.4 912.2 1297.8 914.3 1295.8C915.8 1294.3 917.8 1293.1 919.9 1293.1Z"/>
<path class="c" stroke="#800000" d="M918.8 1325.8C923.4 1325.8 927 1335.1 927 1345.5C927 1359.8 923.1 1370.6 917.5 1370.6C913.2 1370.6 910.2 1360.8 910.2 1347.8C910.2 1336.1 914 1325.8 918.8 1325.8Z"/>
</g>
<path class="ax" d="M864.1 811.7H1046.7V1424.5H864.1ZM937.1 1424.5v-6.5M937.1 811.7v6.5M1010.2 1424.5v-6.5M1010.2 811.7v6.5M864.1 1301.9h6.5M1046.7 1301.9h-6.5M864.1 1179.4h6.5M1046.7 1179.4h-6.5M864.1 1056.8h6.5M1046.7 1056.8h-6.5M864.1 934.3h6.5M1046.7 934.3h-6.5"/>
<text class="tk" text-anchor="end" x="852.5" y="1436.5">0</text>
<text class="tk" text-anchor="end" x="852.5" y="1313.9">1</text>
<text class="tk" text-anchor="end" x="852.5" y="1191.4">2</text>
<text class="tk" text-anchor="end" x="852.5" y="1068.8">3</text>
<text class="tk" text-anchor="end" x="852.5" y="946.3">4</text>
<text class="tk" text-anchor="end" x="852.5" y="823.7">5</text>
<text class="tk" text-anchor="middle" x="936.6" y="1465">2</text>
<text class="tk" text-anchor="middle" x="1009.7" y="1465">4</text>
<text class="i" font-size="35" style="stroke-width:0.45px" x="909.2" y="792.6">t</text>
<text font-size="43" transform="translate(930.2 785) scale(1.19 0.66)" x="-0.6" y="11.9">=</text>
<text font-size="34" style="stroke-width:0.45px" x="967.2" y="792.6" textLength="32.8" lengthAdjust="spacingAndGlyphs">20</text>
<rect x="1063.2" y="45.7" width="32.3" height="613.6" fill="url(#jet)"/>
<path class="ax" stroke-width="1" d="M1063.2 45.7H1095.5V659.3H1063.2ZM1095.5 571.6h-6.6M1095.5 484h-6.6M1095.5 396.3h-6.6M1095.5 308.7h-6.6M1095.5 221h-6.6M1095.5 133.4h-6.6"/>
<text font-size="31" x="1105.9" y="670.9">1</text>
<text font-size="31" x="1105.9" y="583.2">2</text>
<text font-size="31" x="1105.9" y="495.6">3</text>
<text font-size="31" x="1105.9" y="407.9">4</text>
<text font-size="31" x="1105.9" y="320.3">5</text>
<text font-size="31" x="1105.9" y="232.6">6</text>
<text font-size="31" x="1105.9" y="145">7</text>
<text font-size="31" x="1105.9" y="57.3">8</text>
<text font-size="41" x="1095.6" y="37.1">×</text>
<text font-size="31" x="1120.7" y="33">10</text>
<text font-size="24.5" x="1151.2" y="17.6">-4</text>
<rect x="1055.5" y="811.5" width="39.2" height="612.9" fill="url(#jet)"/>
<path class="ax" stroke-width="1" d="M1055.5 811.5H1094.7V1424.4H1055.5ZM1094.7 1322.2h-6.6M1094.7 1220.1h-6.6M1094.7 1118h-6.6M1094.7 1015.8h-6.6M1094.7 913.7h-6.6"/>
<text font-size="28.5" x="1103.7" y="1435.2">0</text>
<text font-size="28.5" x="1103.7" y="1333">1</text>
<text font-size="28.5" x="1103.7" y="1230.9">2</text>
<text font-size="28.5" x="1103.7" y="1128.7">3</text>
<text font-size="28.5" x="1103.7" y="1026.6">4</text>
<text font-size="28.5" x="1103.7" y="924.4">5</text>
<text font-size="28.5" x="1103.7" y="822.3">6</text>
<text font-size="37.7" x="1094.8" y="802.8">×</text>
<text font-size="28.5" x="1117.9" y="799">10</text>
<text font-size="22.5" x="1146" y="784.8">-4</text>
<text font-size="44" style="fill:#000" x="1.5" y="743">(a)</text>
<text font-size="44" style="fill:#000" x="-0.5" y="1507.5">(b)</text>
</svg></body></html>
